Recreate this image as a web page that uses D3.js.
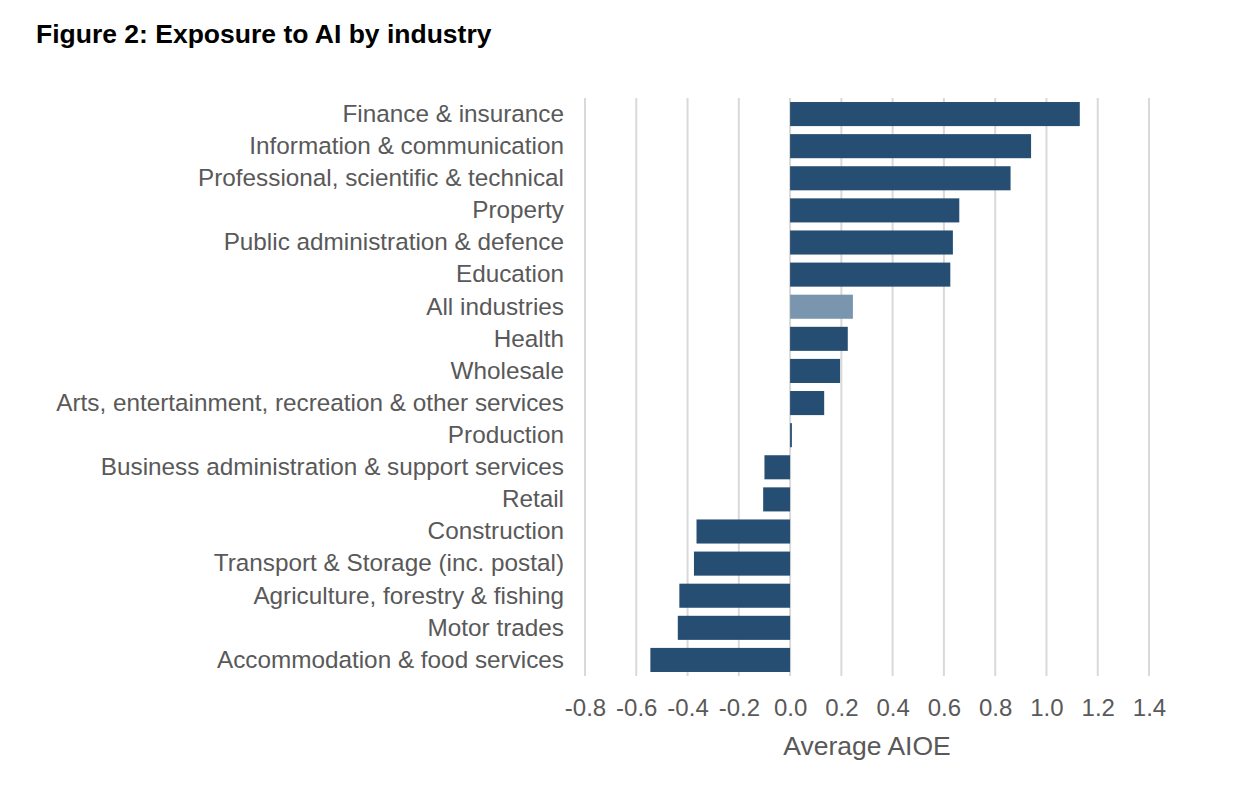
<!DOCTYPE html>
<html lang="en">
<head>
    <meta charset="UTF-8">
    <title>Exposure to AI by industry</title>
    <script type="application/javascript" src="https://cdnjs.cloudflare.com/ajax/libs/d3/7.8.5/d3.min.js"></script>
    <style type="text/css">
        body { margin: 0; background: #fff; }
        text { font-family: "Liberation Sans", Arial, sans-serif; }
        .axis path, .axis line { display: none; }
    </style>
</head>
<body>
<svg id="chart" width="1244" height="806"></svg>
<script type="application/javascript">
    var industries = [
        'Finance & insurance',
        'Information & communication',
        'Professional, scientific & technical',
        'Property',
        'Public administration & defence',
        'Education',
        'All industries',
        'Health',
        'Wholesale',
        'Arts, entertainment, recreation & other services',
        'Production',
        'Business administration & support services',
        'Retail',
        'Construction',
        'Transport & Storage (inc. postal)',
        'Agriculture, forestry & fishing',
        'Motor trades',
        'Accommodation & food services'
    ];
    var aioe = [1.13, 0.94, 0.86, 0.66, 0.635, 0.625, 0.245, 0.225, 0.195, 0.133, 0.007,
        -0.10, -0.105, -0.365, -0.375, -0.432, -0.438, -0.545];
    var xTicks = [-0.8, -0.6, -0.4, -0.2, 0.0, 0.2, 0.4, 0.6, 0.8, 1.0, 1.2, 1.4];
    var highlight = 'All industries';

    (function () {
        var svg = d3.select('#chart');
        var left = 585, right = 1149, top = 98, bottom = 676;

        var data = industries.map(function (d, i) {
            return {name: d, value: aioe[i]};
        });

        var x = d3.scaleLinear().domain([-0.8, 1.4]).range([left, right]);
        var y = d3.scaleBand().domain(industries).range([top, bottom]).paddingInner(0.25).paddingOuter(0.125);

        svg.append('text')
            .attr('x', 36)
            .attr('y', 43)
            .attr('font-size', 26.5)
            .attr('font-weight', 'bold')
            .attr('fill', '#000')
            .text('Figure 2: Exposure to AI by industry');

        // gridlines
        svg.append('g')
            .selectAll('line')
            .data(xTicks)
            .enter().append('line')
            .attr('x1', function (d) { return x(d); })
            .attr('x2', function (d) { return x(d); })
            .attr('y1', top)
            .attr('y2', bottom)
            .attr('stroke', '#d9d9d9')
            .attr('stroke-width', 2);

        svg.append('g')
            .selectAll('rect')
            .data(data)
            .enter().append('rect')
            .attr('x', function (d) { return x(Math.min(0, d.value)); })
            .attr('width', function (d) { return Math.abs(x(d.value) - x(0)); })
            .attr('y', function (d) { return y(d.name); })
            .attr('height', y.bandwidth())
            .attr('fill', function (d) { return d.name === highlight ? '#7a96ae' : '#264e72'; });

        var yAxisG = svg.append('g')
            .attr('class', 'axis')
            .attr('transform', 'translate(' + 564 + ',0)')
            .call(d3.axisLeft(y).tickSize(0).tickPadding(0));
        yAxisG.selectAll('text')
            .attr('font-size', 24.3)
            .attr('fill', '#595959')
            .attr('font-family', '"Liberation Sans", Arial, sans-serif');

        var xAxisG = svg.append('g')
            .attr('class', 'axis')
            .attr('transform', 'translate(0,' + 699 + ')')
            .call(d3.axisBottom(x).tickValues(xTicks).tickSize(0).tickPadding(0)
                .tickFormat(function (d) { return d.toFixed(1); }));
        xAxisG.selectAll('text')
            .attr('font-size', 24)
            .attr('fill', '#595959')
            .attr('font-family', '"Liberation Sans", Arial, sans-serif');

        svg.append('text')
            .attr('text-anchor', 'middle')
            .attr('x', x(0.3))
            .attr('y', 755)
            .attr('font-size', 26.5)
            .attr('fill', '#595959')
            .text('Average AIOE');
    })();
</script>
</body>
</html>
